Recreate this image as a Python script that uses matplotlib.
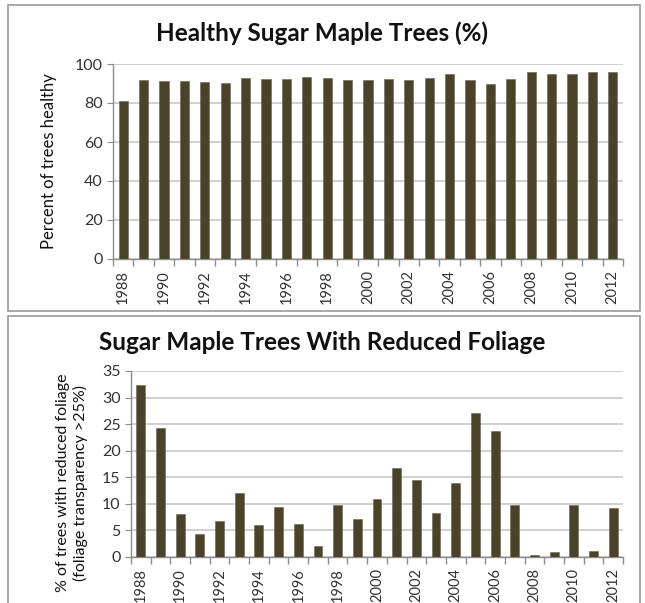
import numpy as np
import matplotlib
matplotlib.use("Agg")
import matplotlib.pyplot as plt
from matplotlib.patches import Rectangle

plt.rcParams['font.family'] = ['Lato', 'DejaVu Sans']

years = list(range(1988, 2013))
healthy = [81, 92, 91.5, 91.5, 91, 90.5, 93, 92.5, 92.5, 93.5, 93, 92, 92,
           92.5, 92, 93, 95, 92, 89.5, 92.5, 96, 95, 95, 96, 96]
reduced = [32.3, 24.3, 8, 4.3, 6.7, 12, 6, 9.4, 6.2, 2, 9.8, 7.1, 11, 16.8,
           14.4, 8.2, 13.9, 27.1, 23.7, 9.8, 0.3, 0.9, 9.7, 1.2, 9.3]

bar_color = "#4a4229"
grid_color = "#c8c8c8"
axis_color = "#8c8c8c"

fig = plt.figure(figsize=(6.45, 6.03), dpi=100)
W, H = 645, 603

# panel frames (pixels -> figure fraction)
def frame(x0, y0, x1, y1):
    fig.patches.append(Rectangle((x0 / W, 1 - y1 / H), (x1 - x0) / W, (y1 - y0) / H,
                                 transform=fig.transFigure, fill=False,
                                 edgecolor="#9a9a9a", linewidth=1.2))

frame(8, 5, 640, 311)
frame(8, 316, 640, 610)


def style(ax, values, ymax, ystep):
    x = np.arange(len(years))
    ax.bar(x, values, width=0.45, color=bar_color, edgecolor="#6a6450", linewidth=0.4, zorder=3)
    ax.set_xlim(-0.5, len(years) - 0.5)
    ax.set_ylim(0, ymax)
    ax.set_yticks(np.arange(0, ymax + 0.1, ystep))
    ax.yaxis.grid(True, color=grid_color, linewidth=1.2, zorder=0)
    ax.set_xticks(x[::2])
    ax.set_xticklabels([str(y) for y in years[::2]], rotation=90)
    ax.set_xticks(np.arange(-0.5, len(years), 1), minor=True)
    ax.tick_params(axis='x', which='major', length=0, pad=8, labelsize=10.5, colors="#333333")
    ax.tick_params(axis='x', which='minor', length=5, color=axis_color, width=1)
    ax.tick_params(axis='y', length=4, color=axis_color, labelsize=11.5, colors="#333333")
    for s in ["top", "right"]:
        ax.spines[s].set_visible(False)
    ax.spines["left"].set_color(axis_color)
    ax.spines["bottom"].set_color(axis_color)
    ax.spines["left"].set_linewidth(1)
    ax.spines["bottom"].set_linewidth(1)
    ax.set_axisbelow(True)


# top chart
ax1 = fig.add_axes([113 / W, 1 - 259 / H, 510 / W, 195 / H])
style(ax1, healthy, 100, 20)
ax1.set_ylabel("Percent of trees healthy", fontsize=12, color="#111111")
ax1.yaxis.set_label_coords(-0.11, 0.5)
fig.text(0.5, 1 - 33 / H, "Healthy Sugar Maple Trees (%)", ha="center", va="center",
         fontsize=17.5, fontweight="bold", color="#111111")

# bottom chart
ax2 = fig.add_axes([131 / W, 1 - 557 / H, 492 / W, 186 / H])
style(ax2, reduced, 35, 5)
ax2.set_ylabel("% of trees with reduced foliage\n(foliage transparency >25%)",
               fontsize=11.5, color="#111111", linespacing=1.25)
ax2.yaxis.set_label_coords(-0.088, 0.40)
fig.text(0.5, 1 - 342 / H, "Sugar Maple Trees With Reduced Foliage", ha="center", va="center",
         fontsize=17.5, fontweight="bold", color="#111111")

fig.savefig("out.png", dpi=100)
